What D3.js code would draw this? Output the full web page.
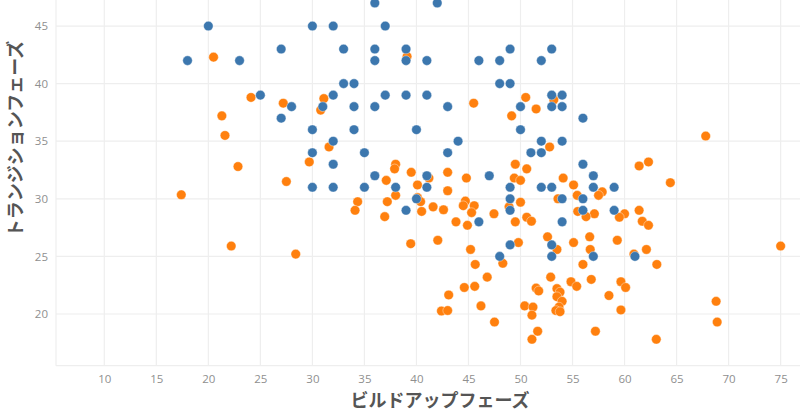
<!DOCTYPE html>
<html><head><meta charset="utf-8">
<script src="https://cdn.jsdelivr.net/npm/d3@7"></script>
<style>body{margin:0;background:#fff}svg{display:block}</style>
</head><body>
<script>
const xTicks = [10,15,20,25,30,35,40,45,50,55,60,65,70,75];
const yTicks = [20,25,30,35,40,45];
const xTitle = "ビルドアップフェーズ";
const yTitle = "トランジションフェーズ";
const seriesColors = ["#ff800e", "#3c77ae"];

const orangeX = [20.5,24.1,21.3,21.6,22.85,17.4,22.2,39.1,27.2,31.1,30.8,45.5,49.15,50.5,53.2,51.5,67.8,31.6,52.8,29.7,62.3,61.4,38.0,37.9,49.5,50.6,39.5,43.0,27.5,37.1,41.2,44.8,49.4,50.0,54.1,40.1,55.1,43.0,57.85,64.4,38.0,55.45,57.5,40.1,53.6,34.35,37.2,40.4,44.7,50.0,44.5,45.55,41.6,48.9,34.1,42.6,40.5,47.45,45.3,61.4,55.5,57.1,60.0,36.95,50.6,56.3,59.5,43.8,49.5,51.05,61.7,44.9,62.3,52.6,56.65,39.45,42.05,49.8,55.1,59.3,45.2,53.5,56.7,62.1,60.9,28.4,75.0,45.65,48.3,56.0,63.1,46.8,52.9,56.8,54.85,59.65,44.6,45.6,55.4,60.1,51.5,51.75,53.5,53.8,43.1,58.5,53.5,54.0,68.8,46.2,50.4,51.2,53.7,42.4,43.0,53.4,53.8,59.65,51.1,47.5,68.9,51.65,57.2,51.1,63.05];
const orangeY = [42.3,38.8,37.2,35.5,32.8,30.35,25.9,42.35,38.3,38.7,37.7,38.3,37.2,38.8,38.6,37.8,35.45,34.5,34.5,33.2,33.2,32.85,33.0,32.6,33.0,32.6,32.3,32.3,31.5,31.6,31.8,31.8,31.8,31.6,31.8,31.2,31.2,30.7,30.6,31.4,30.3,30.3,30.3,30.1,30.0,29.75,29.75,29.75,29.8,29.7,29.4,29.4,29.3,29.3,29.0,29.05,28.9,28.7,28.8,29.0,28.9,28.7,28.7,28.45,28.4,28.45,28.4,28.0,28.0,28.05,28.05,27.7,27.7,26.7,26.7,26.1,26.4,26.2,26.2,26.4,25.6,25.6,25.6,25.6,25.2,25.2,25.9,24.3,24.4,24.3,24.3,23.2,23.2,23.0,22.8,22.8,22.3,22.4,22.4,22.3,22.25,22.0,22.2,21.9,21.65,21.6,21.5,21.1,21.1,20.7,20.7,20.6,20.6,20.26,20.3,20.3,20.2,20.35,19.9,19.3,19.3,18.5,18.5,17.8,17.8];

const blueX = [20,18,23,25,36,42,30,32,37,27,33,36,39,49,53,36,39,41,46,48,52,33,34,48,49,32,37,39,41,53,54,28,31,34,36,43,50,53,54,27,56,30,34,40,50,32,44,52,54,30,35,43,51,52,32,56,36,41,47,57,30,32,35,38,41,49,52,53,57,59,40,49,54,56,39,49,56,59,46,54,49,53,48,53,57,61];
const blueY = [45,42,42,39,47,47,45,45,45,43,43,43,43,43,43,42,42,42,42,42,42,40,40,40,40,39,39,39,39,39,39,38,38,38,38,38,38,38,38,37,37,36,36,36,36,35,35,35,35,34,34,34,34,34,33,33,32,32,32,32,31,31,31,31,31,31,31,31,31,31,30,30,30,30,29,29,29,29,28,28,26,26,25,25,25,25];

const W = 800, H = 419;
const svg = d3.select("body").append("svg").attr("width", W).attr("height", H)
  .style("font-family", "'Noto Sans CJK JP','Noto Sans',sans-serif");

const plotL = 56, plotR = 800, plotT = 0, plotB = 365.7;
const x = d3.scaleLinear().domain([5.36, 76.86]).range([plotL, plotR]);
const y = d3.scaleLinear().domain([15.51, 47.26]).range([plotB, plotT]);

const grid = svg.append("g");
grid.selectAll(".gx").data(xTicks).join("line")
  .attr("x1", d => x(d)).attr("x2", d => x(d)).attr("y1", plotT).attr("y2", plotB)
  .attr("stroke", "#eeeeee").attr("stroke-width", 1.2);
grid.selectAll(".gy").data(yTicks).join("line")
  .attr("y1", d => y(d)).attr("y2", d => y(d)).attr("x1", plotL).attr("x2", plotR)
  .attr("stroke", "#eeeeee").attr("stroke-width", 1.2);
grid.append("line").attr("x1", plotL).attr("x2", plotL).attr("y1", plotT).attr("y2", plotB)
  .attr("stroke", "#eeeeee").attr("stroke-width", 1.2);
grid.append("line").attr("x1", plotL).attr("x2", plotR).attr("y1", plotB).attr("y2", plotB)
  .attr("stroke", "#eeeeee").attr("stroke-width", 1.2);

const xAxis = svg.append("g").attr("transform", `translate(0,${plotB})`)
  .call(d3.axisBottom(x).tickValues(xTicks).tickSize(0).tickPadding(9).tickFormat(d3.format("d")));
xAxis.select(".domain").remove();
xAxis.selectAll("text").attr("fill", "#8f8f8f").style("font-size", "11.5px")
  .style("font-family", "'Open Sans','Noto Sans',sans-serif");

const yAxis = svg.append("g").attr("transform", `translate(${plotL},0)`)
  .call(d3.axisLeft(y).tickValues(yTicks).tickSize(0).tickPadding(8).tickFormat(d3.format("d")));
yAxis.select(".domain").remove();
yAxis.selectAll("text").attr("fill", "#8f8f8f").style("font-size", "11.5px")
  .style("font-family", "'Open Sans','Noto Sans',sans-serif");

const orange = orangeX.map((v, i) => ({x: v, y: orangeY[i]}));
const blue = blueX.map((v, i) => ({x: v, y: blueY[i]}));

svg.append("g").selectAll("circle").data(orange).join("circle")
  .attr("cx", d => x(d.x)).attr("cy", d => y(d.y)).attr("r", 4.8)
  .attr("fill", seriesColors[0]).attr("stroke", "#fff").attr("stroke-width", 0.4);
svg.append("g").selectAll("circle").data(blue).join("circle")
  .attr("cx", d => x(d.x)).attr("cy", d => y(d.y)).attr("r", 4.8)
  .attr("fill", seriesColors[1]).attr("stroke", "#fff").attr("stroke-width", 0.4);

svg.append("text").attr("x", 440).attr("y", 407).attr("text-anchor", "middle")
  .attr("fill", "#555").style("font-size", "18px").style("font-weight", "bold").text(xTitle);
svg.append("text").attr("transform", "translate(22,139) rotate(-90)").attr("text-anchor", "middle")
  .attr("fill", "#555").style("font-size", "18px").style("font-weight", "bold").text(yTitle);
</script>
</body></html>
